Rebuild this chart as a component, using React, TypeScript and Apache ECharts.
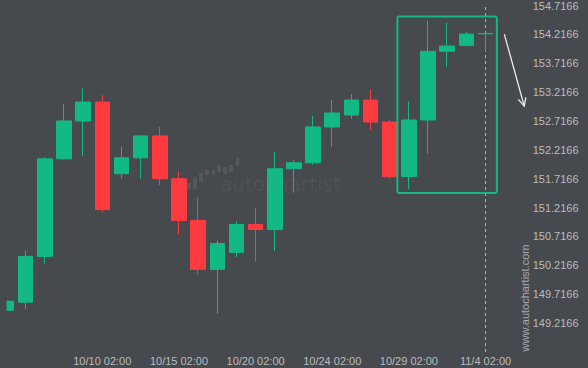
import React, { useEffect, useRef } from 'react';
import * as echarts from 'echarts';

const categories = [
  '10/4 02:00', '10/6 02:00', '10/7 02:00', '10/8 02:00', '10/9 02:00', '10/10 02:00',
  '10/11 02:00', '10/13 02:00', '10/14 02:00', '10/15 02:00', '10/16 02:00', '10/17 02:00',
  '10/18 02:00', '10/20 02:00', '10/21 02:00', '10/22 02:00', '10/23 02:00', '10/24 02:00',
  '10/25 02:00', '10/27 02:00', '10/28 02:00', '10/29 02:00', '10/30 02:00', '10/31 02:00',
  '11/1 02:00', '11/4 02:00', '',
];
const labelledDates = ['10/10 02:00', '10/15 02:00', '10/20 02:00', '10/24 02:00', '10/29 02:00', '11/4 02:00'];

const opens = [149.441, 149.579, 150.372, 152.061, 152.717, 153.044, 151.803, 152.079, 152.458, 151.717, 150.993, 150.148, 150.441, 150.924, 150.837, 151.889, 151.993, 152.613, 152.82, 153.079, 152.699, 151.756, 152.734, 153.924, 154.027, 154.228];
const closes = [149.596, 150.372, 152.061, 152.717, 153.044, 151.182, 152.079, 152.458, 151.717, 150.993, 150.148, 150.596, 150.924, 150.837, 151.889, 151.993, 152.613, 152.855, 153.079, 152.699, 151.751, 152.734, 153.924, 154.015, 154.222, 154.229];
const lows = [149.43, 149.453, 150.246, 152.049, 152.108, 151.136, 151.722, 151.722, 151.608, 150.746, 150.049, 149.377, 150.36, 150.274, 150.463, 151.475, 151.958, 152.274, 152.756, 152.567, 151.722, 151.539, 152.153, 153.653, 154.005, 153.911];
const highs = [149.6, 150.475, 152.096, 153.01, 153.28, 153.165, 152.28, 152.475, 152.613, 151.837, 151.401, 150.648, 150.975, 151.211, 152.182, 152.044, 152.803, 153.079, 153.182, 153.268, 152.746, 153.061, 154.453, 154.418, 154.256, 154.229];

const Y_MIN = 148.7166;
const Y_MAX = 154.7166;
const Y_STEP = 0.5;

// pattern box (category index range, price range) and forecast arrow
const boxIndex = [20.4, 25.59];
const boxPrice = [151.47, 154.527];
const arrowIndex = [25.98, 27.02];
const arrowPrice = [154.222, 152.974];

const GREEN = '#13b983';
const RED = '#fe3b3e';
const BG = '#46494e';
const LABEL = '#bcbcbc';
const FONT = '"Liberation Sans", Arial, sans-serif';

export default function App() {
  const ref = useRef<HTMLDivElement>(null);

  useEffect(() => {
    if (!ref.current) return;
    const chart = echarts.init(ref.current, undefined, { renderer: 'svg' });
    const data = opens.map((o, i) => [o, closes[i], lows[i], highs[i]]);

    chart.setOption({
      animation: false,
      backgroundColor: BG,
      grid: { left: 6.5, right: 83.3, top: 4, bottom: 16, containLabel: false },
      xAxis: {
        type: 'category',
        data: categories,
        boundaryGap: false,
        axisLine: { show: false },
        axisTick: { show: false },
        splitLine: { show: false },
        axisLabel: {
          color: LABEL,
          fontSize: 11,
          fontFamily: FONT,
          margin: 3,
          interval: (i: number, v: string) => labelledDates.includes(v),
        },
      },
      yAxis: {
        type: 'value',
        position: 'right',
        min: Y_MIN,
        max: Y_MAX,
        interval: Y_STEP,
        scale: true,
        axisLine: { show: false },
        axisTick: { show: false },
        splitLine: { show: false },
        axisLabel: {
          color: LABEL,
          fontSize: 11,
          fontFamily: FONT,
          margin: 28,
          showMinLabel: false,
          formatter: (v: number) => (Math.round((v - 0.2166) * 2) / 2 + 0.2166).toFixed(4),
        },
      },
      series: [
        {
          type: 'candlestick',
          data,
          barWidth: 15,
          clip: true,
          z: 5,
          itemStyle: {
            color: GREEN,
            color0: RED,
            borderColor: GREEN,
            borderColor0: RED,
            borderWidth: 1,
          },
          markLine: {
            silent: true,
            symbol: 'none',
            label: { show: false },
            lineStyle: { type: [3, 3], color: '#b5b5b5', width: 1 },
            data: [{ xAxis: categories[25] }],
          },
        },
      ],
    });

    const x0 = chart.convertToPixel({ xAxisIndex: 0 }, 0) as number;
    const x1 = chart.convertToPixel({ xAxisIndex: 0 }, 1) as number;
    const step = x1 - x0;
    const px = (i: number) => x0 + i * step;
    const py = (v: number) => chart.convertToPixel({ yAxisIndex: 0 }, v) as number;

    const bx = px(boxIndex[0]);
    const bw = px(boxIndex[1]) - bx;
    const by = py(boxPrice[1]);
    const bh = py(boxPrice[0]) - by;

    const ax1 = px(arrowIndex[0]);
    const ay1 = py(arrowPrice[0]);
    const ax2 = px(arrowIndex[1]);
    const ay2 = py(arrowPrice[1]);
    const ang = Math.atan2(ay2 - ay1, ax2 - ax1);
    const head = 9;
    const spread = 0.45;
    const h1 = [ax2 - head * Math.cos(ang - spread), ay2 - head * Math.sin(ang - spread)];
    const h2 = [ax2 - head * Math.cos(ang + spread), ay2 - head * Math.sin(ang + spread)];

    // watermark logo bars (decoration)
    const logoBars = [
      [187, 183, 4, 6], [193, 178, 4, 11], [199, 173, 4, 9], [205, 170, 4, 5],
      [212, 170, 3, 5], [217, 165, 4, 7], [223, 167, 4, 7], [229, 165, 4, 7], [236, 158, 3, 8],
    ];

    chart.setOption({
      graphic: [
        ...logoBars.map(([x, y, w, h]) => ({
          type: 'rect', z: 0, silent: true,
          shape: { x, y, width: w, height: h, r: 1 },
          style: { fill: '#55585d' },
        })),
        {
          type: 'text', z: 0, silent: true, x: 220, y: 184,
          style: {
            text: 'autochartist', fill: '#55585d', fontSize: 20, fontWeight: 300,
            fontFamily: '"DejaVu Sans", sans-serif', verticalAlign: 'middle', align: 'left',
          },
        },
        {
          // plot-area left edge mask (the chart clips the first, partial candle)
          type: 'rect', z: 50, silent: true,
          shape: { x: 0, y: 0, width: Math.floor(x0) + 0.5, height: 368 },
          style: { fill: BG },
        },
        {
          type: 'text', z: 10, silent: true, x: 525, y: 298, rotation: Math.PI / 2,
          style: {
            text: 'www.autochartist.com', fill: '#a9a9a9', fontSize: 11,
            fontFamily: FONT, align: 'center', verticalAlign: 'middle',
          },
        },
        {
          type: 'rect', z: 20, silent: true,
          shape: { x: bx, y: by, width: bw, height: bh, r: 2 },
          style: { fill: 'none', stroke: GREEN, lineWidth: 2 },
        },
        {
          type: 'line', z: 20, silent: true,
          shape: { x1: ax1, y1: ay1, x2: ax2, y2: ay2 },
          style: { stroke: '#eeeeee', lineWidth: 1.3 },
        },
        {
          type: 'polyline', z: 20, silent: true,
          shape: { points: [h1, [ax2, ay2], h2] },
          style: { stroke: '#eeeeee', lineWidth: 1.3, fill: 'none' },
        },
      ],
    });

    return () => chart.dispose();
  }, []);

  return (
    <div
      ref={ref}
      style={{ position: 'fixed', left: 0, top: 0, width: 588, height: 368 }}
    />
  );
}
